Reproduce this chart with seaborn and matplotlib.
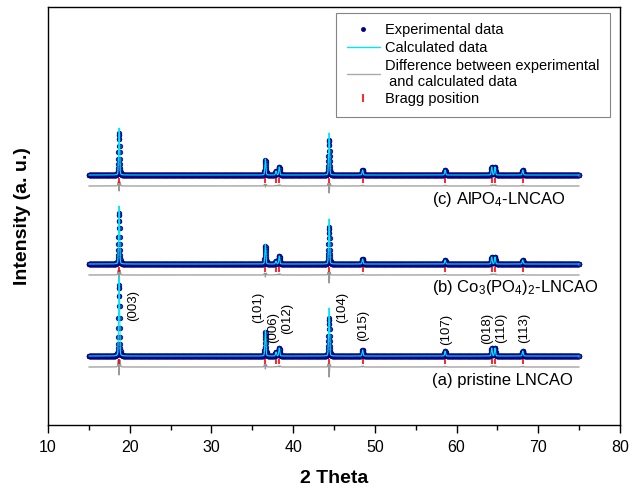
import numpy as np
import pandas as pd
import matplotlib
matplotlib.use("Agg")
import matplotlib.pyplot as plt
from matplotlib.lines import Line2D
from matplotlib.ticker import MultipleLocator
import seaborn as sns

# Bragg peak positions (2 theta) and Miller indices of LNCAO
peak_pos = [18.7, 36.6, 37.9, 38.3, 44.4, 48.5, 58.6, 64.3, 64.7, 68.1]
hkl = ['(003)', '(101)', '(006)', '(012)', '(104)', '(015)', '(107)', '(018)', '(110)', '(113)']
# where the hkl labels sit (x in 2 theta, y in plot units)
hkl_x = [20.4, 35.7, 37.5, 39.25, 46.0, 48.55, 58.7, 63.7, 65.45, 68.25]
hkl_y = [120, 118, 98, 107, 118, 100, 96, 97, 97, 97]

samples = ['(a) pristine LNCAO', '(b) Co$_3$(PO$_4$)$_2$-LNCAO', '(c) AlPO$_4$-LNCAO']
offsets = [69, 161, 250]
label_y = [45, 138, 226]

# peak heights
exp_a = [71, 24, 4, 8, 38, 6, 5, 8, 8, 5]
calc_a = [79, 26, 4, 8, 48, 6, 5, 8, 8, 5]
exp_b = [51, 18, 3, 8, 37, 5, 4, 7, 7, 4]
calc_b = [58, 20, 3, 8, 45, 5, 4, 7, 7, 4]
exp_c = [42, 15, 4, 8, 35, 5, 5, 8, 8, 5]
calc_c = [47, 16, 4, 8, 42, 5, 5, 8, 8, 5]

exp_heights = [exp_a, exp_b, exp_c]
calc_heights = [calc_a, calc_b, calc_c]

two_theta = np.round(np.arange(15, 75.001, 0.02), 2)


def pattern(x, heights, fwhm):
    y = np.zeros_like(x)
    for p, h in zip(peak_pos, heights):
        g = np.exp(-4 * np.log(2) * ((x - p) / fwhm) ** 2)
        lor = 1 / (1 + ((x - p) / (fwhm / 2)) ** 2)
        y += h * (0.8 * g + 0.2 * lor)
    return y


sns.set_style('ticks')
plt.rcParams['font.family'] = ['Liberation Sans', 'DejaVu Sans']
plt.rcParams['mathtext.fontset'] = 'custom'
plt.rcParams['mathtext.rm'] = 'Liberation Sans'
plt.rcParams['mathtext.it'] = 'Liberation Sans:italic'
plt.rcParams['text.color'] = 'black'
plt.rcParams['axes.labelcolor'] = 'black'
plt.rcParams['xtick.color'] = 'black'

fig = plt.figure(figsize=(6.32, 4.9), dpi=100)
ax = fig.add_axes([48 / 632, (490 - 425) / 490, 572 / 632, 418 / 490])

for i in range(3):
    base = offsets[i]
    y_exp = pattern(two_theta, exp_heights[i], 0.17)
    y_calc = pattern(two_theta, calc_heights[i], 0.14)
    df = pd.DataFrame({'2theta': two_theta, 'exp': y_exp + base,
                       'calc': y_calc + base, 'diff': y_exp - y_calc + base - 11})

    sns.lineplot(data=df, x='2theta', y='diff', color='#999999', lw=0.9,
                 estimator=None, sort=False, ax=ax, zorder=1)
    ax.vlines(peak_pos, base - 8, base - 3, color='red', lw=1.2, zorder=2)
    sns.scatterplot(data=df, x='2theta', y='exp', color='#1a3fa8', s=11,
                    edgecolor='#000080', linewidth=0.5, ax=ax, zorder=3, legend=False)
    sns.lineplot(data=df, x='2theta', y='calc', color='#00e5ff', lw=0.8,
                 estimator=None, sort=False, ax=ax, zorder=4)
    ax.text(57.0, label_y[i], samples[i], fontsize=12, ha='left', va='center')

for lab, x, y in zip(hkl, hkl_x, hkl_y):
    ax.text(x, y, lab, rotation=90, fontsize=9.5, ha='center', va='center')

ax.set_xlim(10, 80)
ax.set_ylim(0, 418)
ax.xaxis.set_major_locator(MultipleLocator(10))
ax.xaxis.set_minor_locator(MultipleLocator(5))
ax.tick_params(axis='x', which='major', length=6, width=1, direction='out', labelsize=11.5, pad=4.5)
ax.tick_params(axis='x', which='minor', length=3.5, width=1, direction='out')
ax.set_yticks([])
for sp in ax.spines.values():
    sp.set_visible(True)
    sp.set_linewidth(1.0)
    sp.set_color('black')

ax.set_xlabel('2 Theta', fontsize=14, fontweight='bold', labelpad=11)
ax.set_ylabel('Intensity (a. u.)', fontsize=14, fontweight='bold', labelpad=12)

handles = [
    Line2D([], [], marker='o', ls='', color='#000080', ms=2.5),
    Line2D([], [], color='#00e5ff', lw=1),
    Line2D([], [], color='#aaaaaa', lw=1),
    Line2D([], [], marker='|', ls='', color='red', ms=6, mew=1.2),
]
labels = ['Experimental data', 'Calculated data',
          'Difference between experimental\n and calculated data', 'Bragg position']
leg = ax.legend(handles, labels, loc='upper right', bbox_to_anchor=(0.9825, 0.9856),
                borderaxespad=0, fontsize=10.5, frameon=True, fancybox=False,
                handlelength=2.3, handletextpad=0.35, labelspacing=0.25, borderpad=0.7)
leg.get_frame().set_edgecolor('#666666')
leg.get_frame().set_linewidth(0.8)

fig.savefig('out.png', dpi=100)
